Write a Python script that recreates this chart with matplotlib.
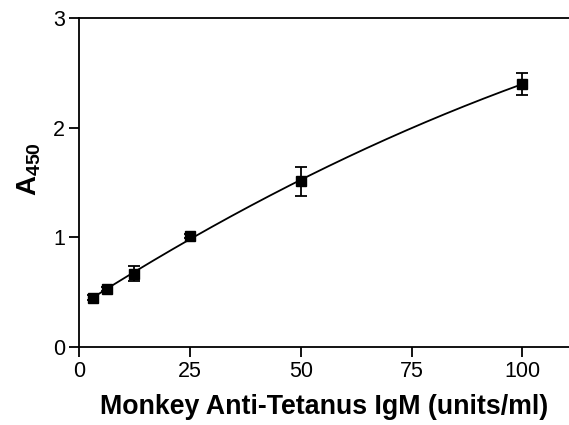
import numpy as np
import matplotlib
matplotlib.use("Agg")
from matplotlib import pyplot as plt

plt.rcParams['font.family'] = ['Liberation Sans', 'DejaVu Sans']
plt.rcParams['mathtext.fontset'] = 'custom'
plt.rcParams['mathtext.bf'] = 'Liberation Sans:bold'
plt.rcParams['mathtext.rm'] = 'Liberation Sans'

conc = [3.125, 6.25, 12.5, 25, 50, 100]
a450 = [0.45, 0.53, 0.67, 1.01, 1.51, 2.40]
err = [0.02, 0.02, 0.07, 0.02, 0.13, 0.10]

fig = plt.figure(figsize=(5.69, 4.25), dpi=100)
ax = fig.add_axes([0.1388, 0.1835, 0.8612, 0.7741])

# smooth fit through the standards
coef = np.polyfit(conc, a450, 2)
xs = np.linspace(conc[0], conc[-1], 200)
ax.plot(xs, np.polyval(coef, xs), color='black', lw=1.3)
ax.errorbar(conc, a450, yerr=err, fmt='s', color='black', ms=7,
            capsize=4, elinewidth=1.3, capthick=1.3)

ax.set_xlim(0, 110.5)
ax.set_ylim(0, 3)
ax.set_xticks([0, 25, 50, 75, 100])
ax.set_yticks([0, 1, 2, 3])
ax.spines['right'].set_visible(False)
for s in ['left', 'bottom', 'top']:
    ax.spines[s].set_linewidth(1.3)
ax.tick_params(direction='out', length=7, width=1.3, labelsize=15.5, pad=3, top=False)
ax.set_xlabel('Monkey Anti-Tetanus IgM (units/ml)', fontsize=19.3, fontweight='bold', labelpad=9)
ax.set_ylabel(r'$\mathbf{A_{450}}$', fontsize=20)
ax.yaxis.set_label_coords(-0.074, 0.54)

fig.savefig('out.png', dpi=100)
